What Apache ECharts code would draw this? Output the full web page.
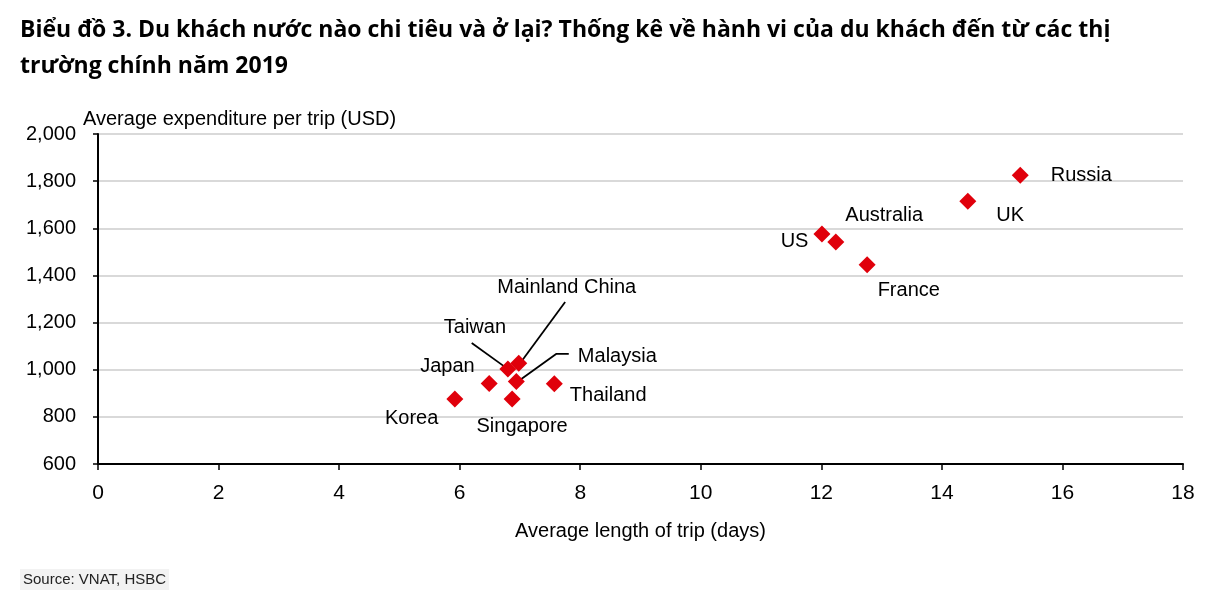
<!DOCTYPE html>
<html>
<head>
<meta charset="utf-8">
<script src="https://cdn.jsdelivr.net/npm/echarts@6/dist/echarts.min.js"></script>
<style>
html,body{margin:0;padding:0;background:#fff;}
#chart{width:1214px;height:596px;}
</style>
</head>
<body>
<div id="chart"></div>
<script>
const countries = ['Russia','UK','Australia','US','France','Korea','Japan','Singapore','Taiwan','Mainland China','Malaysia','Thailand'];
const lengthDays = [15.3, 14.43, 12.24, 12.01, 12.76, 5.92, 6.49, 6.87, 6.8, 6.98, 6.94, 7.57];
const expenditure = [1825, 1715, 1542, 1576, 1445, 876, 942, 876, 1003, 1027, 950, 940];
const xTicks = [0, 2, 4, 6, 8, 10, 12, 14, 16, 18];
const yTicks = [600, 800, 1000, 1200, 1400, 1600, 1800, 2000];

// leader lines (in data units) joining labels to crowded points
const leaderTaiwan = [[6.20, 1113], [6.75, 1012]];
const leaderChina = [[7.75, 1287], [7.03, 1037]];
const leaderMalaysia = [[7.81, 1067], [7.60, 1067], [7.00, 956]];

// label placement styles per country
const labelStyle = {
  'Russia':    {position:'right', distance:22, offset:[0,0]},
  'UK':        {position:'right', distance:20, offset:[0,14]},
  'Australia': {position:'right', distance:1, offset:[0,-26]},
  'US':        {position:'left', distance:5, offset:[0,8]},
  'France':    {position:'right', distance:2, offset:[0,26]},
  'Korea':     {position:'left', distance:8, offset:[0,20]},
  'Japan':     {position:'left', distance:6, offset:[0,-17]},
  'Singapore': {position:'bottom', distance:9, offset:[10,0]},
  'Thailand':  {position:'right', distance:7, offset:[0,12]},
  'Taiwan':    {position:'inside', distance:0, offset:[-33,-42]},
  'Mainland China': {position:'inside', distance:0, offset:[48,-76]},
  'Malaysia':  {position:'inside', distance:0, offset:[101,-25]}
};

const data = countries.map((c, i) => {
  const s = labelStyle[c];
  return {
    name: c,
    value: [lengthDays[i], expenditure[i]],
    label: {show:true, position:s.position, distance:s.distance, offset:s.offset}
  };
});

const F = 'Arial, "Liberation Sans", sans-serif';
const FN = '"Arial Narrow", "Liberation Sans Narrow", Arial, sans-serif';
const leader = d => ({
  type:'line', data:d, symbol:'none', silent:true, z:1,
  lineStyle:{color:'#000', width:1.8}, animation:false
});

const chart = echarts.init(document.getElementById('chart'));
chart.setOption({
  animation:false,
  backgroundColor:'#fff',
  title:[
    {text:'Biểu đồ 3. Du khách nước nào chi tiêu và ở lại? Thống kê về hành vi của du khách đến từ các thị\ntrường chính năm 2019',
     left:15, top:7,
     textStyle:{fontFamily:'"Open Sans", "Noto Sans", sans-serif', fontWeight:'bold', fontSize:23, lineHeight:36, color:'#000'}},
    {text:'Average expenditure per trip (USD)', left:78, top:104,
     textStyle:{fontFamily:F, fontWeight:'normal', fontSize:20, color:'#000'}},
    {text:'Source: VNAT, HSBC', left:20, top:569, padding:[3,3,3,3], backgroundColor:'#f2f2f2',
     textStyle:{fontFamily:FN, fontWeight:'normal', fontSize:15, color:'#222'}}
  ],
  grid:{left:98, right:31, top:134, bottom:132, containLabel:false},
  xAxis:{
    type:'value', min:xTicks[0], max:xTicks[xTicks.length-1], interval:2,
    name:'Average length of trip (days)', nameLocation:'middle', nameGap:57,
    nameTextStyle:{fontFamily:F, fontSize:20, color:'#000'},
    axisLine:{show:true, lineStyle:{color:'#000', width:2}},
    axisTick:{show:true, length:6, lineStyle:{color:'#000', width:1.5}},
    axisLabel:{margin:19, fontFamily:FN, fontSize:21, color:'#000'},
    splitLine:{show:false}
  },
  yAxis:{
    type:'value', min:yTicks[0], max:yTicks[yTicks.length-1], interval:200,
    axisLine:{show:true, lineStyle:{color:'#000', width:2}},
    axisTick:{show:true, length:5, lineStyle:{color:'#000', width:1.5}},
    axisLabel:{margin:22, fontFamily:F, fontSize:20, color:'#000',
      formatter:v => v.toLocaleString('en-US')},
    splitLine:{show:true, lineStyle:{color:'#d9d9d9', width:2}}
  },
  series:[
    leader(leaderTaiwan), leader(leaderChina), leader(leaderMalaysia),
    {
      type:'scatter',
      symbol:'diamond',
      symbolSize:[17,17],
      z:3,
      itemStyle:{color:'#e0000b', opacity:1},
      label:{show:true, formatter:'{b}', fontFamily:F, fontSize:20, color:'#000'},
      data:data
    }
  ]
});
</script>
</body>
</html>
